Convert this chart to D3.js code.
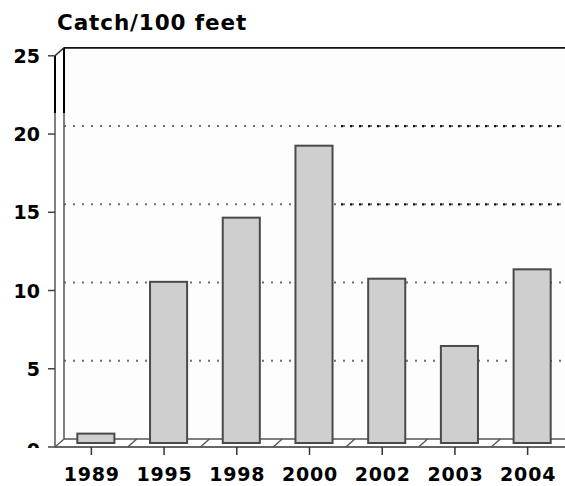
<!DOCTYPE html>
<html><head><meta charset="utf-8">
<script src="https://cdn.jsdelivr.net/npm/d3@7"></script>
<style>body{margin:0;background:#fff}svg{display:block}</style>
</head><body>
<svg id="c" width="565" height="486"></svg>
<script>
const years = ["1989","1995","1998","2000","2002","2003","2004"];
const catchValues = [0.6, 10.3, 14.4, 19.0, 10.5, 6.2, 11.1];
const yTicks = [0, 5, 10, 15, 20, 25];
const gridTicks = [5, 10, 15, 20];
const title = "Catch/100 feet";

const svg = d3.select("#c");
const font = "'DejaVu Sans', 'Liberation Sans', Arial, sans-serif";
const dx = 9, dy = -8;           // depth offset of back wall
const x0 = 55, x1 = 564;
const x = d3.scaleBand().domain(years).range([x0, x1]).paddingInner(0.49).paddingOuter(0.245);
const y = d3.scaleLinear().domain([0, 25]).range([447, 55.8]);

// faint background
svg.append("rect").attr("x", x0 + dx).attr("y", y(25) + dy).attr("width", 565 - x0 - dx).attr("height", y(0) - y(25)).attr("fill", "#fdfdfd");

// back-wall gridlines
const grid = svg.append("g");
grid.selectAll("line").data(gridTicks).join("line")
  .attr("x1", x0 + dx).attr("x2", 565)
  .attr("y1", d => y(d) + dy).attr("y2", d => y(d) + dy)
  .attr("stroke", "#6f6f6f").attr("stroke-width", 2).attr("stroke-dasharray", "2,7");
grid.selectAll("line.dark").data(gridTicks.filter(d => d >= 15)).join("line").attr("class", "dark")
  .attr("x1", 341).attr("x2", 565)
  .attr("y1", d => y(d) + dy).attr("y2", d => y(d) + dy)
  .attr("stroke", "#111").attr("stroke-width", 2.2).attr("stroke-dasharray", "2,7");

// top wall line
svg.append("line").attr("x1", x0 + dx).attr("x2", 565).attr("y1", y(25) + dy).attr("y2", y(25) + dy)
  .attr("stroke", "#111").attr("stroke-width", 1.8);

// floor
const floor = svg.append("g").attr("stroke", "#555").attr("stroke-width", 1.4);
floor.append("line").attr("x1", x0 + dx).attr("x2", 565).attr("y1", y(0) + dy).attr("y2", y(0) + dy);
floor.append("line").attr("x1", x0).attr("x2", 565).attr("y1", y(0)).attr("y2", y(0)).attr("stroke", "#333").attr("stroke-width", 1.6);
floor.selectAll("line.h").data(years.slice(1)).join("line").attr("class", "h")
  .attr("x1", d => x(d) - (x.step() - x.bandwidth()) / 2)
  .attr("x2", d => x(d) - (x.step() - x.bandwidth()) / 2 + dx)
  .attr("y1", y(0)).attr("y2", y(0) + dy);
floor.append("line").attr("x1", x0).attr("x2", x0 + dx).attr("y1", y(0)).attr("y2", y(0) + dy);

// left walls
const wall = svg.append("g");
wall.append("line").attr("x1", x0).attr("x2", x0).attr("y1", y(0)).attr("y2", y(25)).attr("stroke", "#555").attr("stroke-width", 1.5);
wall.append("line").attr("x1", x0 + dx).attr("x2", x0 + dx).attr("y1", y(0) + dy).attr("y2", y(25) + dy).attr("stroke", "#555").attr("stroke-width", 1.5);
wall.append("line").attr("x1", x0).attr("x2", x0).attr("y1", y(25)).attr("y2", 113).attr("stroke", "#000").attr("stroke-width", 2);
wall.append("line").attr("x1", x0 + dx).attr("x2", x0 + dx).attr("y1", y(25) + dy).attr("y2", 113).attr("stroke", "#000").attr("stroke-width", 2);
wall.append("line").attr("x1", x0).attr("x2", x0 + dx).attr("y1", y(25)).attr("y2", y(25) + dy).attr("stroke", "#222").attr("stroke-width", 1.5);

// bars (at mid depth)
svg.append("g").selectAll("rect").data(years).join("rect")
  .attr("x", d => x(d) + dx / 2)
  .attr("y", (d, i) => y(catchValues[i]) + dy / 2)
  .attr("width", x.bandwidth())
  .attr("height", (d, i) => y(0) - y(catchValues[i]))
  .attr("fill", "#cfcfcf").attr("stroke", "#4a4a4a").attr("stroke-width", 2);

// y axis ticks + labels
const yAxis = svg.append("g");
yAxis.selectAll("line").data(yTicks).join("line")
  .attr("x1", x0 - 7).attr("x2", x0).attr("y1", d => y(d)).attr("y2", d => y(d))
  .attr("stroke", "#444").attr("stroke-width", 1.5);
svg.append("clipPath").attr("id", "yc").append("rect").attr("x", 0).attr("y", 0).attr("width", 60).attr("height", 448);
yAxis.append("g").attr("clip-path", "url(#yc)").selectAll("text").data(yTicks).join("text")
  .attr("x", 40).attr("y", d => y(d) + (d === 0 ? 10 : 7))
  .attr("text-anchor", "end").attr("font-family", font).attr("font-weight", "bold")
  .attr("font-size", 19).attr("fill", "#000").text(d => d);

// x axis ticks + labels
const xAxis = svg.append("g");
xAxis.selectAll("line").data(years).join("line")
  .attr("x1", d => x(d) + x.bandwidth() / 2).attr("x2", d => x(d) + x.bandwidth() / 2)
  .attr("y1", y(0)).attr("y2", y(0) + 8).attr("stroke", "#333").attr("stroke-width", 1.5);
xAxis.selectAll("text").data(years).join("text")
  .attr("x", d => x(d) + x.bandwidth() / 2 + 0.5).attr("y", 481)
  .attr("text-anchor", "middle").attr("font-family", font).attr("font-weight", "bold")
  .attr("font-size", 19).attr("letter-spacing", 0.8).attr("fill", "#000").text(d => d);

// title
svg.append("text").attr("x", 57).attr("y", 30).attr("font-family", font).attr("font-weight", "bold")
  .attr("font-size", 21.5).attr("letter-spacing", 0.9).attr("fill", "#000").text(title);
</script>
</body></html>
